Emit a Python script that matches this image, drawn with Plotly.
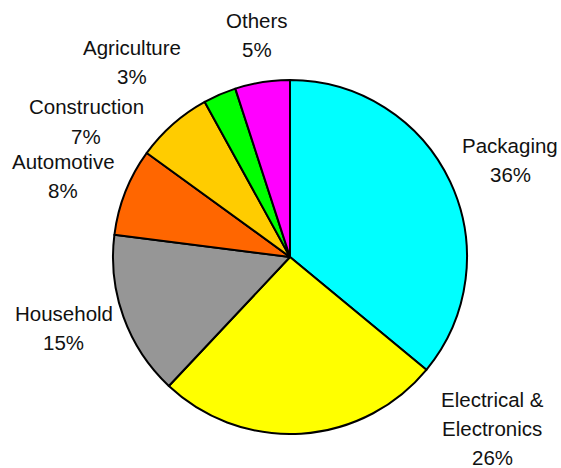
import plotly.graph_objects as go

# Plastic consumption by end-use sector
sectors = ["Packaging", "Electrical &<br>Electronics", "Household", "Automotive",
           "Construction", "Agriculture", "Others"]
shares = [36, 26, 15, 8, 7, 3, 5]
colors = ["#00FFFF", "#FFFF00", "#969696", "#FF6600", "#FFCC00", "#00FF00", "#FF00FF"]

# label anchor (pixel centre of the first text line) for each sector
label_xy = [(510, 145), (492, 399), (64, 313), (63, 161), (86, 107), (132, 48), (257, 21)]
LINE_GAP = 29

W, H = 561, 468
cx, cy, r = 290, 257, 177

fig = go.Figure(go.Pie(
    labels=[s.replace("<br>", " ") for s in sectors],
    values=shares,
    sort=False,
    direction="clockwise",
    rotation=0,
    marker=dict(colors=colors, line=dict(color="black", width=2)),
    textinfo="none",
    hoverinfo="label+percent",
    showlegend=False,
    domain=dict(x=[(cx - r) / W, (cx + r) / W],
                y=[(H - cy - r) / H, (H - cy + r) / H]),
))

font = dict(family="Liberation Sans, Arial, sans-serif", size=20.5, color="#111111")
annotations = []
for name, val, (lx, ly) in zip(sectors, shares, label_xy):
    lines = name.split("<br>") + [f"{val}%"]
    for i, line in enumerate(lines):
        annotations.append(dict(
            x=lx / W, y=1 - (ly + i * LINE_GAP) / H,
            xref="paper", yref="paper",
            text=line, showarrow=False,
            xanchor="center", yanchor="middle",
            font=font,
        ))

fig.update_layout(
    width=W, height=H,
    margin=dict(l=0, r=0, t=0, b=0),
    paper_bgcolor="white",
    plot_bgcolor="white",
    annotations=annotations,
)

fig.write_html("out.html")
